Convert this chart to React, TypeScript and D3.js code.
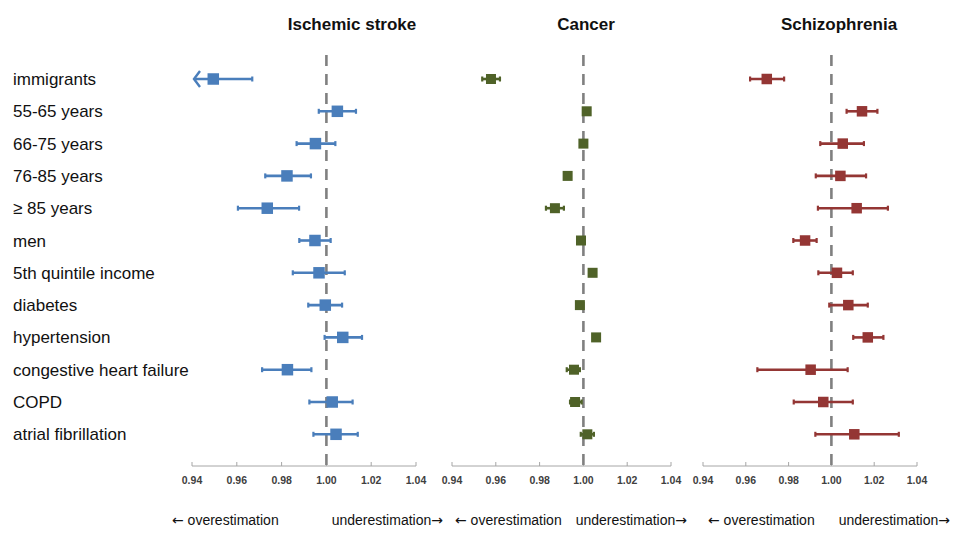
import React from "react";
import * as d3 from "d3";

const categories = [
  "immigrants",
  "55-65 years",
  "66-75 years",
  "76-85 years",
  "≥ 85 years",
  "men",
  "5th quintile income",
  "diabetes",
  "hypertension",
  "congestive heart failure",
  "COPD",
  "atrial fibrillation",
];

const panelTitles = ["Ischemic stroke", "Cancer", "Schizophrenia"];
const panelColors = ["#4a7ebb", "#4f6228", "#943634"];
const tickValues = [0.94, 0.96, 0.98, 1.0, 1.02, 1.04];

const strokeEst = [0.9495, 1.0049, 0.9951, 0.9824, 0.9736, 0.9949, 0.9967, 0.9995, 1.0073, 0.9826, 1.0026, 1.0043];
const strokeLow = [0.93, 0.9966, 0.9867, 0.9727, 0.9605, 0.9879, 0.985, 0.9919, 0.9992, 0.9713, 0.9924, 0.9942];
const strokeHigh = [0.9669, 1.0132, 1.004, 0.9931, 0.9878, 1.0019, 1.0082, 1.007, 1.0159, 0.9933, 1.0117, 1.014];

const cancerEst = [0.9578, 1.0015, 1.0, 0.9928, 0.987, 0.9989, 1.0042, 0.9984, 1.0058, 0.9957, 0.9962, 1.0018];
const cancerLow = [0.9538, 1.0005, 0.999, 0.992, 0.9829, 0.998, 1.0034, 0.9976, 1.005, 0.9924, 0.9939, 0.9988];
const cancerHigh = [0.9619, 1.0025, 1.001, 0.9936, 0.9911, 0.9998, 1.005, 0.9992, 1.0066, 0.9984, 0.9992, 1.0048];

const schizEst = [0.9698, 1.0143, 1.0053, 1.0042, 1.0118, 0.9877, 1.0026, 1.0079, 1.017, 0.9903, 0.9962, 1.0107];
const schizLow = [0.962, 1.0071, 0.9948, 0.9927, 0.9937, 0.9822, 0.9939, 0.999, 1.0102, 0.9654, 0.9824, 0.9925];
const schizHigh = [0.9779, 1.0215, 1.0152, 1.0162, 1.0264, 0.9931, 1.01, 1.017, 1.0243, 1.0076, 1.01, 1.0315];

const panelData = [
  { est: strokeEst, low: strokeLow, high: strokeHigh },
  { est: cancerEst, low: cancerLow, high: cancerHigh },
  { est: schizEst, low: schizLow, high: schizHigh },
];

const W = 956;
const H = 539;
const panelRanges: [number, number][] = [
  [192, 416],
  [452, 671],
  [703, 917],
];
const titleX = [352, 586, 839];
const leftLabelX = [172, 455, 708];
const rightLabelX = [443, 687, 950];
const squareSizes = [11.5, 10, 10.5];
const axisY = 466;
const dashTop = 55;
const font = "'Liberation Sans', Arial, Helvetica, sans-serif";
const arrowFont = "'DejaVu Sans', sans-serif";

const yScale = d3.scalePoint<string>().domain(categories).range([79, 434.3]);

export default function App() {
  return (
    <svg
      width={W}
      height={H}
      style={{ position: "absolute", left: 0, top: 0, background: "#fff" }}
      fontFamily={font}
    >
      <rect x={0} y={0} width={W} height={H} fill="#fff" />
      {categories.map((c) => (
        <text key={c} x={13} y={(yScale(c) as number) + 6} fontSize={17} fill="#111">
          {c}
        </text>
      ))}
      {panelTitles.map((title, pi) => {
        const x = d3.scaleLinear().domain([0.94, 1.04]).range(panelRanges[pi]);
        const color = panelColors[pi];
        const data = panelData[pi];
        const sq = squareSizes[pi];
        const [r0, r1] = panelRanges[pi];
        const x1 = x(1.0);
        return (
          <g key={title}>
            <text x={titleX[pi]} y={30} textAnchor="middle" fontSize={17} fontWeight="bold" fill="#111">
              {title}
            </text>
            <line x1={r0} x2={r1} y1={axisY} y2={axisY} stroke="#a6a6a6" strokeWidth={1} />
            {tickValues.map((t) => (
              <g key={t}>
                <line x1={x(t)} x2={x(t)} y1={axisY - 4} y2={axisY} stroke="#a6a6a6" strokeWidth={1} />
                <text x={x(t)} y={484} textAnchor="middle" fontSize={10.5} fontWeight="bold" fill="#404040">
                  {t.toFixed(2)}
                </text>
              </g>
            ))}
            <line
              x1={x1}
              x2={x1}
              y1={dashTop}
              y2={axisY + 3}
              stroke="#808080"
              strokeWidth={2.6}
              strokeDasharray="11,8"
            />
            {categories.map((c, i) => {
              const y = yScale(c) as number;
              const lowClipped = data.low[i] < 0.94;
              const xl = lowClipped ? x(0.94) + 2 : x(data.low[i]);
              const xh = x(data.high[i]);
              const xe = x(data.est[i]);
              return (
                <g key={c}>
                  <line x1={xl} x2={xh} y1={y} y2={y} stroke={color} strokeWidth={2.6} />
                  {!lowClipped && (
                    <line x1={xl} x2={xl} y1={y - 2.5} y2={y + 2.5} stroke={color} strokeWidth={2.2} />
                  )}
                  <line x1={xh} x2={xh} y1={y - 2.5} y2={y + 2.5} stroke={color} strokeWidth={2.2} />
                  {lowClipped && (
                    <polyline
                      points={`${xl + 6},${y - 8} ${xl},${y} ${xl + 6},${y + 8}`}
                      fill="none"
                      stroke={color}
                      strokeWidth={2.4}
                    />
                  )}
                  <rect x={xe - sq / 2} y={y - sq / 2} width={sq} height={sq} fill={color} />
                </g>
              );
            })}
            <text x={leftLabelX[pi]} y={525} fontSize={14} fill="#111">
              <tspan fontFamily={arrowFont}>←</tspan>
              <tspan> overestimation</tspan>
            </text>
            <text x={rightLabelX[pi]} y={525} fontSize={14} fill="#111" textAnchor="end">
              <tspan>underestimation</tspan>
              <tspan fontFamily={arrowFont}>→</tspan>
            </text>
          </g>
        );
      })}
    </svg>
  );
}
